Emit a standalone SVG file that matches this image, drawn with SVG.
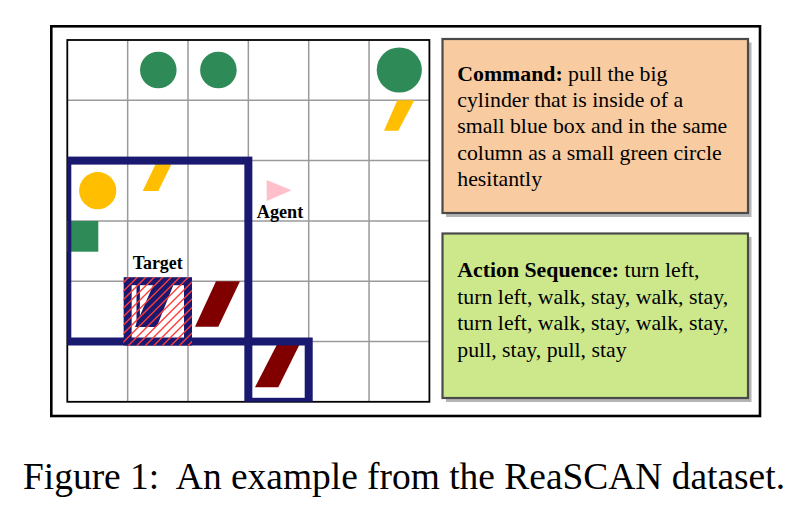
<svg xmlns="http://www.w3.org/2000/svg" width="804" height="516" viewBox="0 0 804 516">
<defs>
<style>
.grid{stroke:#9a9a9a;stroke-width:1.5;fill:none}
.navybox{fill:none;stroke:#191970;stroke-width:8}
.green{fill:#2e8b57}
.yellow{fill:#ffbf00}
.maroon{fill:#800000}
.lbl{font-family:"Liberation Serif","Times New Roman",serif;font-weight:bold;font-size:18px;fill:#000;text-anchor:middle}
.txt{font-family:"Liberation Serif","Times New Roman",serif;font-size:21.8px;fill:#000}
.b{font-weight:bold}
.panel{stroke:#4a4a4a;stroke-width:2.2}
.shadow{fill:#b4b4b4}
.hl{stroke:#ff3c3c;stroke-width:1.4}
</style>
<clipPath id="gridclip"><rect x="67.3" y="40" width="362.1" height="361.8"/></clipPath>
<clipPath id="hatchclip"><rect x="123.3" y="277" width="68.8" height="68.7"/></clipPath>
</defs>
<rect width="804" height="516" fill="#fff"/>
<rect id="frame" x="51.3" y="26.3" width="708.7" height="389.7" fill="none" stroke="#000" stroke-width="2.6"/>
<g id="grid">
<rect x="67.3" y="40" width="362.1" height="361.8" fill="#fff"/>
<path class="grid" d="M127.65 40V401.8M188 40V401.8M248.35 40V401.8M308.7 40V401.8M369.05 40V401.8M67.3 100.3H429.4M67.3 160.6H429.4M67.3 220.9H429.4M67.3 281.2H429.4M67.3 341.5H429.4"/>
<rect x="67.3" y="40" width="362.1" height="361.8" fill="none" stroke="#000" stroke-width="1.8"/>
</g>
<g id="objects">
<circle class="green" cx="158.3" cy="70" r="18.3"/>
<circle class="green" cx="218.4" cy="70" r="18.3"/>
<circle class="green" cx="399.3" cy="70" r="22.6"/>
<polygon class="yellow" points="397.3,100.3 414.3,100.3 398.3,130.7 384,130.7"/>
<circle class="yellow" cx="97.7" cy="190.7" r="18.6"/>
<polygon class="yellow" points="157.3,160.6 173.3,160.6 158.3,191 142.7,191"/>
<rect class="green" x="67.3" y="221" width="31" height="30.7"/>
<polygon class="maroon" points="216,281.2 240,281.2 218.3,326.7 195,326.7"/>
<polygon class="maroon" points="276.7,345 299.3,345 278.3,387.3 255,387.3"/>
</g>
<g id="boxes" clip-path="url(#gridclip)">
<rect class="navybox" x="67.3" y="160.6" width="181.05" height="180.9"/>
<rect class="navybox" x="248.35" y="341.5" width="60.35" height="60.3"/>
</g>
<g id="agent">
<polygon points="266.7,180 291.7,190.3 266.7,201" fill="#ffc0cb"/>
<text class="lbl" x="280" y="218.3" textLength="46.5" lengthAdjust="spacingAndGlyphs">Agent</text>
</g>
<g id="target">
<text class="lbl" x="157.7" y="269.3" textLength="50" lengthAdjust="spacingAndGlyphs">Target</text>
<rect class="navybox" x="127.65" y="281.2" width="60.35" height="60.3" style="fill:#fff"/>
<polygon fill="#191970" points="153.3,284.8 173.5,284.8 156.7,327 135,327"/>
<rect x="136.5" y="284.8" width="3.4" height="42.2" fill="#191970"/>
<g clip-path="url(#hatchclip)">
<path class="hl" d="M60 346L130 276M68.5 346L138.5 276M77 346L147 276M85.5 346L155.5 276M94 346L164 276M102.5 346L172.5 276M111 346L181 276M119.5 346L189.5 276M128 346L198 276M136.5 346L206.5 276M145 346L215 276M153.5 346L223.5 276M162 346L232 276M170.5 346L240.5 276M179 346L249 276M187.5 346L257.5 276"/>
</g>
</g>
<g id="command">
<rect class="shadow" x="446" y="42.5" width="305.5" height="174.5"/>
<rect class="panel" x="442.5" y="39" width="305.5" height="174" fill="#f8cba0"/>
<text class="txt" x="457.3"><tspan x="457.3" y="81"><tspan class="b">Command:</tspan> pull the big</tspan><tspan x="457.3" y="107.2">cylinder that is inside of a</tspan><tspan x="457.3" y="133.4">small blue box and in the same</tspan><tspan x="457.3" y="159.6">column as a small green circle</tspan><tspan x="457.3" y="185.8">hesitantly</tspan></text>
</g>
<g id="action">
<rect class="shadow" x="446" y="237" width="305.5" height="165"/>
<rect class="panel" x="442.5" y="233.5" width="305.5" height="164.5" fill="#cde88b"/>
<text class="txt" x="457.3"><tspan x="457.3" y="277.3"><tspan class="b">Action Sequence:</tspan> turn left,</tspan><tspan x="457.3" y="303.8">turn left, walk, stay, walk, stay,</tspan><tspan x="457.3" y="330.3">turn left, walk, stay, walk, stay,</tspan><tspan x="457.3" y="356.8">pull, stay, pull, stay</tspan></text>
</g>
<text x="23" y="489" font-family="'Liberation Serif','Times New Roman',serif" font-size="37" textLength="762" lengthAdjust="spacingAndGlyphs" xml:space="preserve">Figure 1:  An example from the ReaSCAN dataset.</text>
</svg>
